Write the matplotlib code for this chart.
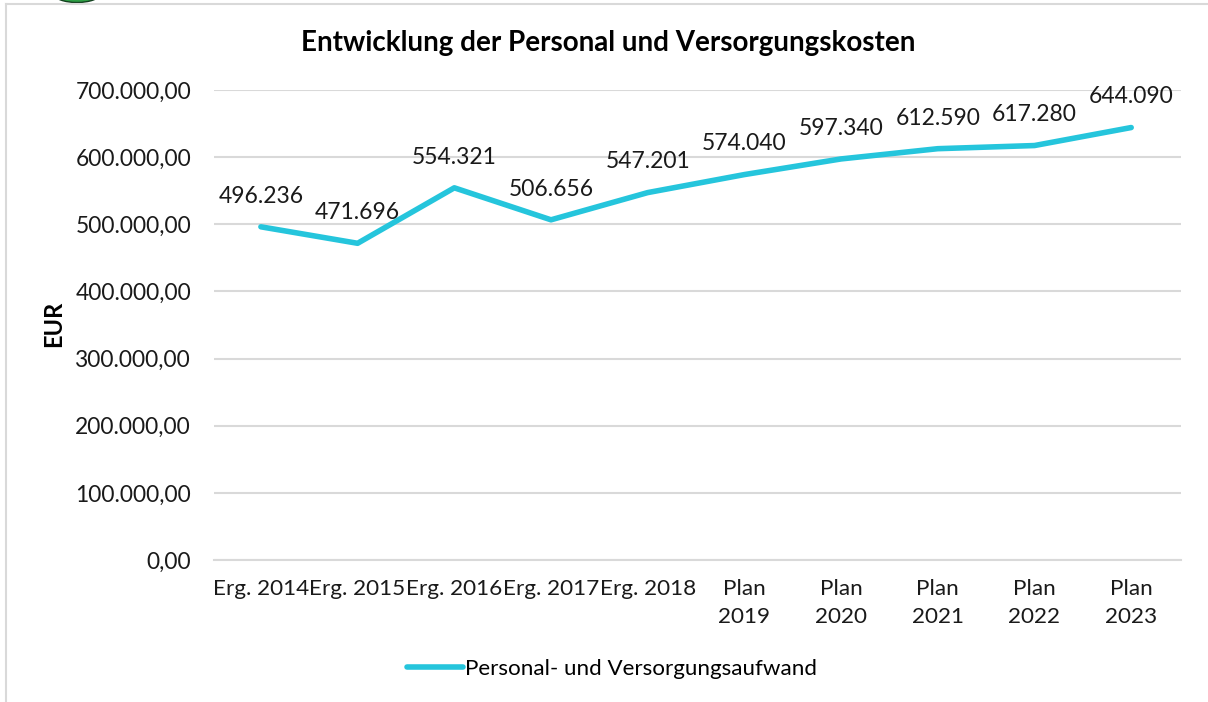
import numpy as np
import matplotlib
matplotlib.use("Agg")
import matplotlib.pyplot as plt
from matplotlib.lines import Line2D
from matplotlib.patches import Ellipse
from matplotlib.ticker import FuncFormatter

categories = ["Erg. 2014", "Erg. 2015", "Erg. 2016", "Erg. 2017", "Erg. 2018",
              "Plan\n2019", "Plan\n2020", "Plan\n2021", "Plan\n2022", "Plan\n2023"]
values = [496236, 471696, 554321, 506656, 547201, 574040, 597340, 612590, 617280, 644090]
labels = ["496.236", "471.696", "554.321", "506.656", "547.201",
          "574.040", "597.340", "612.590", "617.280", "644.090"]
y_ticks = [0, 100000, 200000, 300000, 400000, 500000, 600000, 700000]

W, H = 1208, 702
line_color = "#25C5DC"
plt.rcParams["font.family"] = ["Lato", "DejaVu Sans"]

fig = plt.figure(figsize=(W / 100, H / 100), dpi=100)
ax = fig.add_axes([214 / W, 1 - 560 / H, (1181 - 214) / W, (560 - 90) / H])

x = np.arange(len(values))
ax.plot(x, values, color=line_color, lw=4, solid_capstyle="round", solid_joinstyle="round")
ax.set_xlim(-0.485, 9.515)
ax.set_ylim(0, 700000)

def de_format(v, pos):
    return f"{v:,.2f}".replace(",", "X").replace(".", ",").replace("X", ".")

ax.set_yticks(y_ticks)
ax.yaxis.set_major_formatter(FuncFormatter(de_format))
ax.set_xticks(x)
ax.set_xticklabels(categories, linespacing=1.45)
ax.tick_params(axis="both", length=0, labelcolor="#1a1a1a")
ax.tick_params(axis="x", pad=14, labelsize=16.2)
ax.tick_params(axis="y", pad=16.5, labelsize=16.4)
ax.grid(axis="y", color="#D9D9D9", lw=1.5)
ax.set_axisbelow(True)
for side in ["top", "right", "left"]:
    ax.spines[side].set_visible(False)
ax.spines["bottom"].set_color("#D9D9D9")
ax.spines["bottom"].set_linewidth(1.5)

# data labels sit above the line
for xi, v, lab in zip(x, values, labels):
    ax.annotate(lab, (xi, v), xytext=(0, 14.5), textcoords="offset points",
                ha="center", va="bottom", fontsize=16.5, color="#1a1a1a")

ax.set_ylabel("EUR", fontsize=17, fontweight="bold", color="black")
ax.yaxis.set_label_coords((65 - 214) / (1181 - 214), (560 - 324) / (560 - 90))
fig.text(608.5 / W, 1 - 43 / H, "Entwicklung der Personal und Versorgungskosten",
         ha="center", va="center", fontsize=20, fontweight="bold", color="black")

handle = Line2D([], [], color=line_color, lw=4, solid_capstyle="round")
fig.legend([handle], ["Personal- und Versorgungsaufwand"], loc="center",
           bbox_to_anchor=(612 / W, 1 - 669 / H), frameon=False, fontsize=16.1,
           handlelength=2.5, handletextpad=0.1)

# chart frame and the bit of logo cut off at the top
fig.add_artist(Line2D([6 / W, 6 / W], [0, 1 - 4 / H], color="#D9D9D9", lw=1.5))
fig.add_artist(Line2D([6 / W, 1], [1 - 4 / H, 1 - 4 / H], color="#D9D9D9", lw=1.5))
fig.add_artist(Ellipse((77, H + 6), 46, 17, transform=None, facecolor="#2E9E45",
                       edgecolor="#14401F", lw=1))

fig.savefig("out.png", dpi=100)
